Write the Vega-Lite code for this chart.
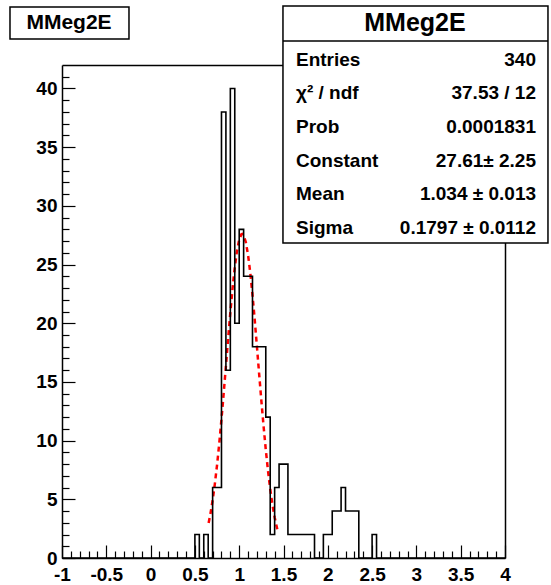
{
  "$schema": "https://vega.github.io/schema/vega-lite/v6.json",
  "width": 443,
  "height": 493,
  "autosize": {"type": "none"},
  "padding": {"left": 62, "top": 65, "right": 46, "bottom": 27},
  "background": "white",
  "config": {"view": {"stroke": null}, "font": "Liberation Sans"},
  "datasets": {
    "hist": [
      {"lo": -1, "n": 0},
      {"lo": 0.5, "n": 2}, {"lo": 0.55, "n": 0}, {"lo": 0.6, "n": 2}, {"lo": 0.65, "n": 0},
      {"lo": 0.7, "n": 6}, {"lo": 0.75, "n": 6}, {"lo": 0.8, "n": 38}, {"lo": 0.85, "n": 16},
      {"lo": 0.9, "n": 40}, {"lo": 0.95, "n": 20}, {"lo": 1.0, "n": 28}, {"lo": 1.05, "n": 24},
      {"lo": 1.1, "n": 24}, {"lo": 1.15, "n": 18}, {"lo": 1.2, "n": 18}, {"lo": 1.25, "n": 18},
      {"lo": 1.3, "n": 12}, {"lo": 1.35, "n": 2}, {"lo": 1.4, "n": 6}, {"lo": 1.45, "n": 8},
      {"lo": 1.5, "n": 8}, {"lo": 1.55, "n": 2}, {"lo": 1.6, "n": 2}, {"lo": 1.65, "n": 2},
      {"lo": 1.7, "n": 2}, {"lo": 1.75, "n": 2}, {"lo": 1.8, "n": 2}, {"lo": 1.85, "n": 0},
      {"lo": 1.9, "n": 0}, {"lo": 1.95, "n": 2}, {"lo": 2.0, "n": 2}, {"lo": 2.05, "n": 4},
      {"lo": 2.1, "n": 4}, {"lo": 2.15, "n": 6}, {"lo": 2.2, "n": 4}, {"lo": 2.25, "n": 4},
      {"lo": 2.3, "n": 4}, {"lo": 2.35, "n": 0}, {"lo": 2.4, "n": 0}, {"lo": 2.45, "n": 0},
      {"lo": 2.5, "n": 2}, {"lo": 2.55, "n": 0},
      {"lo": 4, "n": 0}
    ],
    "fit": [
      {"x": 0.655, "f": 2.99}, {"x": 0.675, "f": 3.75}, {"x": 0.7, "f": 4.91}, {"x": 0.725, "f": 6.30},
      {"x": 0.75, "f": 7.92}, {"x": 0.775, "f": 9.77}, {"x": 0.8, "f": 11.83}, {"x": 0.825, "f": 14.04},
      {"x": 0.85, "f": 16.35}, {"x": 0.875, "f": 18.67}, {"x": 0.9, "f": 20.91}, {"x": 0.925, "f": 22.97},
      {"x": 0.95, "f": 24.75}, {"x": 0.975, "f": 26.16}, {"x": 1.0, "f": 27.12}, {"x": 1.025, "f": 27.58},
      {"x": 1.034, "f": 27.61}, {"x": 1.05, "f": 27.50}, {"x": 1.075, "f": 26.90}, {"x": 1.1, "f": 25.81},
      {"x": 1.125, "f": 24.29}, {"x": 1.15, "f": 22.42}, {"x": 1.175, "f": 20.30}, {"x": 1.2, "f": 18.02},
      {"x": 1.225, "f": 15.69}, {"x": 1.25, "f": 13.41}, {"x": 1.275, "f": 11.24}, {"x": 1.3, "f": 9.23},
      {"x": 1.325, "f": 7.44}, {"x": 1.35, "f": 5.88}, {"x": 1.375, "f": 4.56}, {"x": 1.4, "f": 3.47},
      {"x": 1.43, "f": 2.44}
    ]
  },
  "layer": [
    {
      "data": {"values": [{}]},
      "mark": {"type": "rect", "fill": "white", "stroke": "black", "strokeWidth": 1.5},
      "encoding": {
        "x": {"datum": -1.587, "type": "quantitative", "scale": {"domain": [-1, 4], "nice": false, "zero": false},
              "axis": {"orient": "top", "title": null, "domain": true, "domainColor": "black", "domainWidth": 1.5, "ticks": false, "labels": false, "grid": false, "zindex": 0}},
        "x2": {"datum": -0.244},
        "y": {"datum": 46.94, "type": "quantitative", "scale": {"domain": [0, 42], "nice": false, "zero": false},
              "axis": {"orient": "right", "title": null, "domain": true, "domainColor": "black", "domainWidth": 1.5, "ticks": false, "labels": false, "grid": false, "zindex": 0}},
        "y2": {"datum": 44.215}
      }
    },
    {
      "data": {"name": "fit"},
      "mark": {"type": "line", "color": "#ff0000", "strokeWidth": 2.5, "strokeDash": [5, 4]},
      "encoding": {
        "x": {"field": "x", "type": "quantitative", "scale": {"domain": [-1, 4], "nice": false, "zero": false},
              "axis": {"orient": "bottom", "title": null, "values": [-0.9, -0.8, -0.7, -0.6, -0.4, -0.3, -0.2, -0.1, 0.1, 0.2, 0.3, 0.4, 0.6, 0.7, 0.8, 0.9, 1.1, 1.2, 1.3, 1.4, 1.6, 1.7, 1.8, 1.9, 2.1, 2.2, 2.3, 2.4, 2.6, 2.7, 2.8, 2.9, 3.1, 3.2, 3.3, 3.4, 3.6, 3.7, 3.8, 3.9],
                       "labels": false, "domain": false, "grid": false, "tickSize": -7, "tickColor": "black", "tickWidth": 1.2, "zindex": 0}},
        "y": {"field": "f", "type": "quantitative", "scale": {"domain": [0, 42], "nice": false, "zero": false},
              "axis": {"orient": "left", "title": null, "values": [1, 2, 3, 4, 6, 7, 8, 9, 11, 12, 13, 14, 16, 17, 18, 19, 21, 22, 23, 24, 26, 27, 28, 29, 31, 32, 33, 34, 36, 37, 38, 39, 41],
                       "labels": false, "domain": false, "grid": false, "tickSize": -7, "tickColor": "black", "tickWidth": 1.2, "zindex": 0}}
      }
    },
    {
      "data": {"name": "hist"},
      "mark": {"type": "line", "interpolate": "step-after", "color": "black", "strokeWidth": 1.6},
      "encoding": {
        "x": {"field": "lo", "type": "quantitative", "scale": {"domain": [-1, 4], "nice": false, "zero": false},
              "axis": {"orient": "bottom", "title": null, "values": [-1, -0.5, 0, 0.5, 1, 1.5, 2, 2.5, 3, 3.5, 4],
                       "labelExpr": "'' + datum.value", "labelFont": "Liberation Sans", "labelFontWeight": "bold", "labelFontSize": 19, "labelColor": "black",
                       "labelFlush": false, "labelOverlap": false, "labelPadding": 20, "tickSize": -13, "tickColor": "black", "tickWidth": 1.2,
                       "domainColor": "black", "domainWidth": 1.5, "grid": false, "zindex": 0}},
        "y": {"field": "n", "type": "quantitative", "scale": {"domain": [0, 42], "nice": false, "zero": false},
              "axis": {"orient": "left", "title": null, "values": [0, 5, 10, 15, 20, 25, 30, 35, 40],
                       "labelFont": "Liberation Sans", "labelFontWeight": "bold", "labelFontSize": 19, "labelColor": "black",
                       "labelFlush": false, "labelOverlap": false, "labelPadding": 18, "tickSize": -13, "tickColor": "black", "tickWidth": 1.2,
                       "domainColor": "black", "domainWidth": 1.5, "grid": false, "zindex": 0}}
      }
    },
    {
      "data": {"values": [{}]},
      "layer": [
        {
          "mark": {"type": "text", "font": "Liberation Sans", "fontWeight": "bold", "fontSize": 21, "color": "black", "align": "center", "baseline": "middle"},
          "encoding": {
            "x": {"datum": -0.921, "type": "quantitative", "axis": null},
            "y": {"datum": 45.58, "type": "quantitative", "axis": null},
            "text": {"value": "MMeg2E"}
          }
        },
        {
          "mark": {"type": "rect", "fill": "white", "stroke": "black", "strokeWidth": 1.5},
          "encoding": {
            "x": {"datum": 1.494, "type": "quantitative", "axis": null},
            "x2": {"datum": 4.485},
            "y": {"datum": 47.03, "type": "quantitative", "axis": null},
            "y2": {"datum": 26.835}
          }
        },
        {
          "mark": {"type": "rule", "stroke": "black", "strokeWidth": 1.5},
          "encoding": {
            "x": {"datum": 1.494, "type": "quantitative", "axis": null},
            "x2": {"datum": 4.485},
            "y": {"datum": 44.045, "type": "quantitative", "axis": null}
          }
        },
        {
          "mark": {"type": "text", "font": "Liberation Sans", "fontWeight": "bold", "fontSize": 25, "color": "black", "align": "center", "baseline": "middle"},
          "encoding": {
            "x": {"datum": 2.984, "type": "quantitative", "axis": null},
            "y": {"datum": 45.578, "type": "quantitative", "axis": null},
            "text": {"value": "MMeg2E"}
          }
        },
        {
          "mark": {"type": "text", "font": "Liberation Sans", "fontWeight": "bold", "fontSize": 19, "color": "black", "align": "left", "baseline": "middle", "lineHeight": 33.6},
          "encoding": {
            "x": {"datum": 1.641, "type": "quantitative", "axis": null},
            "y": {"datum": 42.45, "type": "quantitative", "axis": null},
            "text": {"value": ["Entries", "χ² / ndf", "Prob", "Constant", "Mean", "Sigma"]}
          }
        },
        {
          "mark": {"type": "text", "font": "Liberation Sans", "fontWeight": "bold", "fontSize": 19, "color": "black", "align": "right", "baseline": "middle", "lineHeight": 33.6},
          "encoding": {
            "x": {"datum": 4.35, "type": "quantitative", "axis": null},
            "y": {"datum": 42.45, "type": "quantitative", "axis": null},
            "text": {"value": ["340", "37.53 / 12", "0.0001831", "27.61± 2.25", "1.034 ± 0.013", "0.1797 ± 0.0112"]}
          }
        }
      ]
    }
  ],
  "resolve": {"axis": {"x": "independent", "y": "independent"}}
}
